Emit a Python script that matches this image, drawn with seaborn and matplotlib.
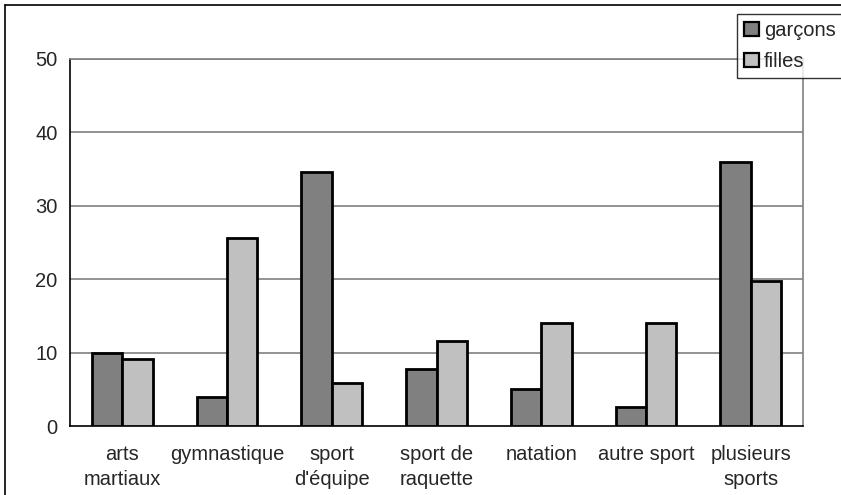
import matplotlib
matplotlib.use("Agg")
import matplotlib.pyplot as plt
import seaborn as sns
import pandas as pd
from matplotlib.patches import Patch
from matplotlib.lines import Line2D

categories = ["arts\nmartiaux", "gymnastique", "sport\nd'équipe", "sport de\nraquette",
              "natation", "autre sport", "plusieurs\nsports"]
garcons = [9.9, 3.9, 34.6, 7.8, 5.0, 2.6, 36.0]
filles = [9.1, 25.6, 5.8, 11.6, 14.0, 14.1, 19.8]
series = ["garçons", "filles"]
colors = ["#808080", "#c0c0c0"]
yticks = [0, 10, 20, 30, 40, 50]

df = pd.DataFrame({
    "cat": categories * 2,
    "val": garcons + filles,
    "serie": [series[0]] * len(categories) + [series[1]] * len(categories),
})

sns.set_theme(style="white")
plt.rcParams["font.family"] = ["Liberation Sans", "DejaVu Sans"]

fig = plt.figure(figsize=(8.41, 4.95), dpi=100)
W, H = 841, 495
ax = fig.add_axes([70 / W, 1 - 426 / H, (803 - 70) / W, (426 - 59) / H])

sns.barplot(data=df, x="cat", y="val", hue="serie", palette=colors, width=0.58,
            edgecolor="black", linewidth=2.0, ax=ax, legend=False, zorder=3)

ax.set_ylim(0, 50)
ax.set_xlim(-0.5, len(categories) - 0.5)
ax.set_yticks(yticks)
ax.set_yticklabels([str(t) for t in yticks], fontsize=14.5)
ax.set_xlabel("")
ax.set_ylabel("")
ax.tick_params(axis="x", which="major", length=0, labelsize=14.5, pad=14)
ax.set_xticks([i - 0.5 for i in range(len(categories) + 1)], minor=True)
ax.tick_params(axis="x", which="minor", length=6, width=1, color="black", direction="out")
ax.tick_params(axis="y", which="major", length=5, width=1, color="black", direction="out", pad=4)
for t in ax.get_xticklabels():
    t.set_linespacing(1.4)

for y in yticks[1:]:
    ax.axhline(y, color="#808080", linewidth=1.2, zorder=1)

for s in ["top", "right"]:
    ax.spines[s].set_visible(True)
    ax.spines[s].set_color("#808080")
    ax.spines[s].set_linewidth(1.2)
for s in ["left", "bottom"]:
    ax.spines[s].set_color("black")
    ax.spines[s].set_linewidth(1.2)
ax.set_facecolor("white")

# outer figure border
fig.add_artist(Line2D([5 / W, 5 / W], [0, 1 - 5 / H], color="black", linewidth=1.2, transform=fig.transFigure))
fig.add_artist(Line2D([5 / W, 1], [1 - 5 / H, 1 - 5 / H], color="black", linewidth=1.2, transform=fig.transFigure))

handles = [Patch(facecolor=c, edgecolor="black", linewidth=1.6) for c in colors]
leg = fig.legend(handles, series, loc="upper left", bbox_to_anchor=(737 / W, 1 - 14 / H),
                 fontsize=14.5, frameon=True, fancybox=False, edgecolor="black",
                 handlelength=0.75, handleheight=0.75, handletextpad=0.25,
                 borderpad=0.35, labelspacing=0.6, borderaxespad=0)
leg.get_frame().set_linewidth(1.0)

fig.savefig("out.png", dpi=100, facecolor="white")
